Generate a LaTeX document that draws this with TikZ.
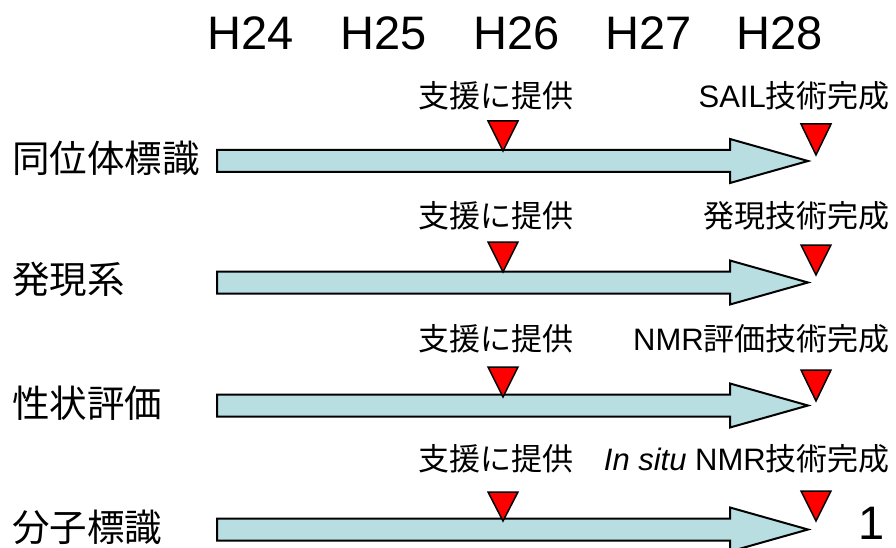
\documentclass[tikz,border=0pt]{standalone}
\usepackage{fontspec}
\setmainfont{Liberation Sans}
\newfontfamily\jp{Noto Sans CJK JP}
\definecolor{barfill}{RGB}{184,222,225}
\begin{document}
\begin{tikzpicture}[x=1pt,y=-1pt,
  year/.style={font=\fontsize{47}{50}\selectfont, inner sep=0, anchor=base},
  rowlabel/.style={font=\jp\fontsize{37.5}{40}\selectfont, inner sep=0, anchor=base west},
  note/.style={font=\fontsize{31}{34}\selectfont, inner sep=0, anchor=base},
  notedone/.style={font=\fontsize{31}{34}\selectfont, inner sep=0, anchor=base east},
  bar/.style={draw=black, line width=2pt, fill=barfill, line join=miter},
  redtri/.style={draw=black, line width=1.5pt, fill=red, line join=miter}]
\useasboundingbox (0,0) rectangle (896,548);
% years
\node[year] (h24) at (251,50) {H24};
\node[year] (h25) at (384,50) {H25};
\node[year] (h26) at (517,50) {H26};
\node[year] (h27) at (649,50) {H27};
\node[year] (h28) at (780,50) {H28};
% arrows and markers
\foreach \c/\lt/\lb/\rt/\rb in {161/121/151/124/155, 282.5/242/272/245/275, 405.5/367/397/370/401, 529.5/492/521/491/521}{
  \draw[bar] (217,\c-11) -- (730,\c-11) -- (730,\c-22) -- (808,\c) -- (730,\c+22) -- (730,\c+11) -- (217,\c+11) -- cycle;
  \draw[redtri] (488,\lt) -- (518,\lt) -- (503,\lb) -- cycle;
  \draw[redtri] (801,\rt) -- (831,\rt) -- (816,\rb) -- cycle;
}
% row labels
\node[rowlabel] (r1) at (12,172) {同位体標識};
\node[rowlabel] (r2) at (12,293) {発現系};
\node[rowlabel] (r3) at (12,417) {性状評価};
\node[rowlabel] (r4) at (12,541) {分子標識};
% notes
\node[note] (n1) at (495.5,107.3) {\jp 支援に提供};
\node[note] (n2) at (495.5,227.3) {\jp 支援に提供};
\node[note] (n3) at (495.5,350.3) {\jp 支援に提供};
\node[note] (n4) at (495.5,470.8) {\jp 支援に提供};
\node[notedone] (d1) at (890,107.3) {SAIL{\jp 技術完成}};
\node[notedone] (d2) at (890,227.3) {\jp 発現技術完成};
\node[notedone] (d3) at (890,350.3) {NMR{\jp 評価技術完成}};
\node[notedone] (d4) at (890,470.8) {\textit{In situ} NMR{\jp 技術完成}};
% page number
\node[year] (pg) at (872,539) {1};
\end{tikzpicture}
\end{document}
